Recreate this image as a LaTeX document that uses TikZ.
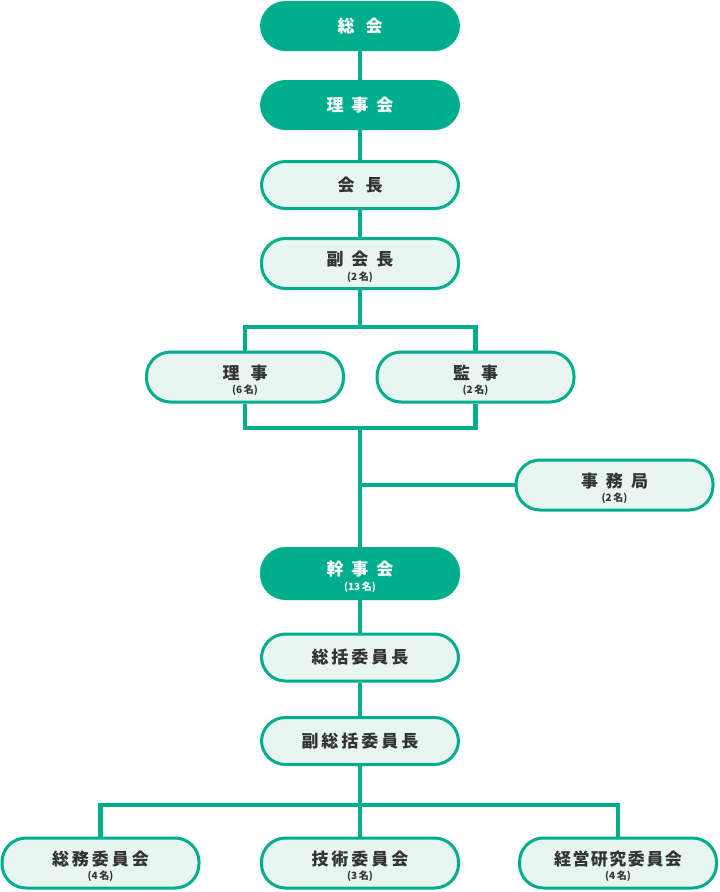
\documentclass[tikz,border=0pt]{standalone}
\usepackage{fontspec}
\setmainfont{Noto Sans CJK JP}
\usetikzlibrary{backgrounds}
\definecolor{grn}{RGB}{0,173,140}
\definecolor{pale}{RGB}{232,246,242}
\definecolor{ink}{RGB}{51,51,51}
\newcommand\jgapw{\hspace{11pt}}
\newcommand\jgapm{\hspace{8pt}}
\newcommand\jgapn{\hspace{3pt}}
\newcommand\jgapt{\hspace{1.5pt}}
\tikzset{
  basebox/.style={rounded corners=24pt, minimum width=197pt, minimum height=47pt,
    inner sep=0pt, line width=3pt, draw=grn, align=center,
    font=\bfseries\fontsize{17}{19}\selectfont},
  tallbox/.style={minimum height=50pt, text height=14pt, text depth=10pt},
  darkbox/.style={basebox, fill=grn, text=white},
  lightbox/.style={basebox, fill=pale, text=ink},
  subfont/.style={font=\bfseries\fontsize{10}{11}\selectfont, inner sep=0pt},
  sublbl/.style={label={[subfont, text=ink, yshift=-13.5pt]center:#1}},
  sublblw/.style={label={[subfont, text=white, yshift=-13.5pt]center:#1}},
  link/.style={draw=grn, line width=4.5pt},
}
\begin{document}
\begin{tikzpicture}[x=1pt,y=-1pt]
\useasboundingbox (0,0) rectangle (720,892);
\node[darkbox] (soukai) at (360,26) {総\jgapw 会};
\node[darkbox] (rijikai) at (360,105) {理\jgapm 事\jgapm 会};
\node[lightbox] (kaicho) at (360,185) {会\jgapw 長};
\node[lightbox,tallbox,sublbl={(2\,名)}] (fukukaicho) at (360,263.5) {副\jgapm 会\jgapm 長};
\node[lightbox,tallbox,sublbl={(6\,名)}] (riji) at (245,377) {理\jgapw 事};
\node[lightbox,tallbox,sublbl={(2\,名)}] (kanji) at (475.5,377) {監\jgapw 事};
\node[lightbox,tallbox,sublbl={(2\,名)}] (jimukyoku) at (614.5,485) {事\jgapm 務\jgapm 局};
\node[darkbox,tallbox,sublblw={(13\,名)}] (kanjikai) at (360,573.5) {幹\jgapm 事\jgapm 会};
\node[lightbox] (soukatsu) at (360,657.5) {総\jgapn 括\jgapn 委\jgapn 員\jgapn 長};
\node[lightbox] (fukusoukatsu) at (360,741) {副\jgapn 総\jgapn 括\jgapn 委\jgapn 員\jgapn 長};
\node[lightbox,tallbox,sublbl={(4\,名)}] (soumu) at (100.5,863) {総\jgapn 務\jgapn 委\jgapn 員\jgapn 会};
\node[lightbox,tallbox,sublbl={(3\,名)}] (gijutsu) at (360,863) {技\jgapn 術\jgapn 委\jgapn 員\jgapn 会};
\node[lightbox,tallbox,sublbl={(4\,名)}] (keiei) at (618,863) {経\jgapt 営\jgapt 研\jgapt 究\jgapt 委\jgapt 員\jgapt 会};
\coordinate (top) at (360,327);
\coordinate (bot) at (360,428);
\coordinate (bb) at (360,805);
\begin{scope}[on background layer]
\draw[link] (soukai) -- (rijikai);
\draw[link] (rijikai) -- (kaicho);
\draw[link] (kaicho) -- (fukukaicho);
\draw[link] (fukukaicho) -- (top);
\draw[link] (riji.north) |- (top) -| (kanji.north);
\draw[link] (riji.south) |- (bot) -| (kanji.south);
\draw[link] (bot) -- (kanjikai);
\draw[link] (jimukyoku.west) -- (jimukyoku.west -| bot);
\draw[link] (kanjikai) -- (soukatsu);
\draw[link] (soukatsu) -- (fukusoukatsu);
\draw[link] (fukusoukatsu) -- (bb);
\draw[link] (soumu.north) |- (bb) -| (keiei.north);
\draw[link] (bb) -- (gijutsu);
\end{scope}
\end{tikzpicture}
\end{document}
